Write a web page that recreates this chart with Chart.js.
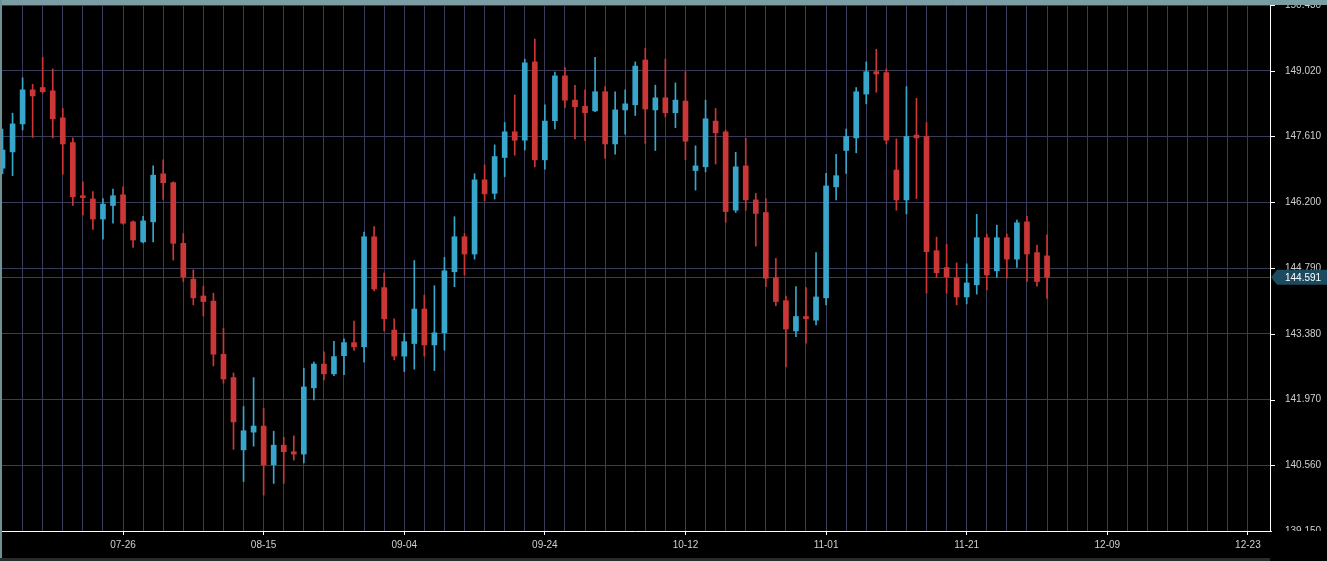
<!DOCTYPE html>
<html>
<head>
<meta charset="utf-8">
<title>Candles</title>
<script src="https://cdn.jsdelivr.net/npm/chart.js@4.4.1/dist/chart.umd.min.js"></script>
<style>
    html, body { margin: 0; padding: 0; background: #000; overflow: hidden; }
    #wrap { position: relative; width: 1327px; height: 561px; }
    #fxChart { position: absolute; left: 0; top: 0; }
    #topbar { position: absolute; left: 0; top: 0; width: 1327px; height: 5px; background: #7a9ea4; }
    #leftbar { position: absolute; left: 0; top: 0; width: 2px; height: 561px; background: #6f9196; }
    #bottombar { position: absolute; left: 0; top: 558px; width: 1270px; height: 3px; background: #2b2b2b; }
    #clip { position: absolute; left: 1272px; top: 531px; width: 55px; height: 30px; background: #000; }
</style>
</head>
<body>
<div id="wrap">
    <canvas id="fxChart" width="1327" height="561"></canvas>
    <div id="topbar"></div>
    <div id="leftbar"></div>
    <div id="bottombar"></div>
    <div id="clip"></div>
</div>
<script>
// daily candles
const opens = [146.93, 147.28, 147.88, 148.61, 148.66, 148.59, 148.01, 147.48, 146.34, 146.27,
    145.84, 146.13, 146.36, 145.78, 145.35, 145.78, 146.81, 146.62, 145.32, 144.55,
    144.19, 144.08, 142.94, 142.44, 140.89, 141.27, 141.40, 140.57, 140.99, 140.85,
    140.80, 142.22, 142.73, 142.52, 142.91, 143.19, 143.10, 145.46, 144.37, 143.46,
    142.90, 143.17, 143.91, 143.14, 143.40, 144.71, 145.46, 145.09, 146.68, 146.39,
    147.16, 147.71, 147.53, 149.21, 147.11, 147.95, 148.91, 148.39, 148.26, 148.16,
    148.57, 147.45, 148.18, 148.29, 149.25, 148.18, 148.44, 148.12, 148.37, 146.88,
    146.96, 147.94, 147.71, 146.03, 146.98, 146.25, 145.98, 144.58, 144.09, 143.44,
    143.75, 143.67, 144.15, 146.53, 147.31, 147.58, 148.52, 149.00, 148.98, 146.89,
    146.25, 147.64, 147.61, 145.16, 144.80, 144.58, 144.17, 144.43, 145.44, 144.73,
    145.44, 144.98, 145.78, 145.12, 145.05];
const highs = [147.77, 148.11, 148.87, 148.73, 149.31, 149.06, 148.21, 147.58, 146.64, 146.43,
    146.28, 146.48, 146.53, 145.80, 145.90, 146.98, 147.11, 146.64, 145.53, 144.75,
    144.40, 144.25, 143.50, 142.54, 141.82, 142.44, 141.78, 141.29, 141.16, 141.19,
    142.64, 142.77, 142.99, 143.22, 143.27, 143.65, 145.56, 145.68, 144.68, 143.70,
    143.39, 144.95, 144.21, 144.41, 145.02, 145.89, 145.53, 146.81, 147.00, 147.43,
    147.91, 148.50, 149.27, 149.70, 148.29, 148.99, 149.09, 148.71, 148.61, 149.31,
    148.68, 148.57, 148.61, 149.21, 149.50, 148.71, 149.27, 148.76, 149.00, 147.41,
    148.39, 148.21, 147.75, 147.27, 147.57, 146.39, 146.28, 145.00, 144.19, 144.39,
    144.37, 145.12, 146.82, 147.23, 147.77, 148.66, 149.21, 149.48, 149.06, 147.56,
    148.68, 148.43, 147.91, 145.45, 145.30, 144.90, 144.88, 145.94, 145.52, 145.71,
    145.52, 145.82, 145.90, 145.28, 145.50];
const lows = [146.81, 146.77, 147.75, 147.59, 148.54, 147.58, 146.80, 146.13, 145.93, 145.62,
    145.41, 145.75, 145.73, 145.23, 145.33, 145.35, 146.26, 144.96, 144.50, 144.00,
    143.76, 142.69, 142.32, 140.90, 140.21, 140.97, 139.92, 140.17, 140.17, 140.67,
    140.61, 141.96, 142.39, 142.48, 142.50, 143.02, 142.77, 144.30, 143.44, 142.82,
    142.57, 142.62, 142.90, 142.59, 143.03, 144.39, 144.64, 144.98, 146.23, 146.27,
    146.75, 147.21, 147.32, 146.96, 146.91, 147.77, 148.23, 147.56, 147.52, 148.14,
    147.14, 147.23, 147.66, 148.06, 147.46, 147.31, 148.03, 147.80, 147.11, 146.46,
    146.85, 147.02, 145.77, 145.98, 146.03, 145.26, 144.39, 143.98, 142.67, 143.32,
    143.18, 143.57, 144.00, 146.25, 146.82, 147.26, 148.31, 148.56, 147.45, 146.03,
    145.95, 146.28, 144.25, 144.59, 144.25, 144.00, 144.02, 144.23, 144.32, 144.59,
    144.57, 144.80, 144.50, 144.40, 144.14];
const closes = [147.32, 147.88, 148.61, 148.48, 148.57, 147.99, 147.45, 146.32, 146.30, 145.84,
    146.16, 146.34, 145.75, 145.39, 145.80, 146.78, 146.62, 145.32, 144.60, 144.15,
    144.07, 142.94, 142.41, 141.49, 141.30, 141.40, 140.57, 140.99, 140.85, 140.80,
    142.24, 142.73, 142.52, 142.89, 143.19, 143.10, 145.46, 144.34, 143.70, 142.90,
    143.21, 143.91, 143.14, 143.40, 144.73, 145.46, 145.09, 146.68, 146.38, 147.18,
    147.71, 147.53, 149.19, 147.11, 147.94, 148.91, 148.39, 148.25, 148.12, 148.57,
    147.45, 148.18, 148.31, 149.12, 148.20, 148.44, 148.12, 148.39, 147.51, 146.98,
    147.99, 147.69, 146.00, 146.96, 146.25, 145.96, 144.57, 144.07, 143.48, 143.75,
    143.70, 144.17, 146.55, 146.77, 147.61, 148.57, 149.00, 148.95, 147.53, 146.25,
    147.61, 147.58, 145.14, 144.69, 144.60, 144.17, 144.47, 145.44, 144.64, 145.44,
    144.98, 145.76, 145.09, 144.50, 144.591];

// x axis: labelled dates and the candle slot they sit on
const dateLabels = ['07-26', '08-15', '09-04', '09-24', '10-12', '11-01', '11-21', '12-09', '12-23'];
const dateIndex = [12, 26, 40, 54, 68, 82, 96, 110, 124];
const yTicks = [139.15, 140.56, 141.97, 143.38, 144.79, 146.20, 147.61, 149.02, 150.43];

const upColor = '#38a5cb';
const downColor = '#cb3737';
const gridColor = '#393c58';
const textColor = '#cfcfcf';
const labelFont = { family: '"Liberation Sans", Arial, sans-serif', size: 10, lineHeight: 1 };

const idx = opens.map((v, i) => i);
const candleColors = idx.map(i => closes[i] >= opens[i] ? upColor : downColor);
const bodies = idx.map(i => ({ x: i, y: [opens[i], closes[i]] }));
const wicks = idx.map(i => ({ x: i, y: [lows[i], highs[i]] }));
const lastClose = closes[closes.length - 1];

// current price line, short y ticks and the price tag
const lastPrice = {
    id: 'lastPrice',
    beforeDatasetsDraw(chart) {
        const c = chart.ctx;
        const area = chart.chartArea;
        const y = Math.round(chart.scales.y.getPixelForValue(lastClose)) + 0.5;
        c.save();
        c.strokeStyle = gridColor;
        c.lineWidth = 1;
        c.beginPath();
        c.moveTo(area.left, y);
        c.lineTo(area.right, y);
        c.stroke();
        c.restore();
    },
    afterDraw(chart) {
        const c = chart.ctx;
        const area = chart.chartArea;
        const ys = chart.scales.y;
        c.save();
        c.strokeStyle = '#ffffff';
        c.lineWidth = 1;
        yTicks.forEach(v => {
            const ty = Math.round(ys.getPixelForValue(v)) + 0.5;
            c.beginPath();
            c.moveTo(area.right, ty);
            c.lineTo(area.right + 5, ty);
            c.stroke();
        });
        const y = ys.getPixelForValue(lastClose);
        const x0 = area.right + 1;
        c.fillStyle = '#1c4a5f';
        c.beginPath();
        c.moveTo(x0, y);
        c.lineTo(x0 + 6, y - 7.5);
        c.lineTo(chart.width, y - 7.5);
        c.lineTo(chart.width, y + 7.5);
        c.lineTo(x0 + 6, y + 7.5);
        c.closePath();
        c.fill();
        c.fillStyle = '#ffffff';
        c.font = '10px "Liberation Sans", Arial, sans-serif';
        c.textBaseline = 'middle';
        c.fillText(lastClose.toFixed(3), area.right + 15, y + 0.5);
        c.restore();
    }
};

const config = {
    type: 'bar',
    data: {
        datasets: [
            {
                label: 'body',
                data: bodies,
                backgroundColor: candleColors,
                borderWidth: 0,
                barThickness: 5,
                minBarLength: 1,
                grouped: false,
                order: 0
            },
            {
                label: 'wick',
                data: wicks,
                backgroundColor: candleColors,
                borderWidth: 0,
                barThickness: 1,
                grouped: false,
                order: 1
            }
        ]
    },
    options: {
        responsive: false,
        animation: false,
        devicePixelRatio: 1,
        events: [],
        layout: { padding: 0 },
        plugins: {
            legend: { display: false },
            tooltip: { enabled: false }
        },
        scales: {
            x: {
                type: 'linear',
                min: -0.25,
                max: 126.2,
                offset: false,
                afterBuildTicks: (axis) => {
                    const t = [];
                    for (let v = 2; v <= 124; v += 2) t.push({ value: v });
                    axis.ticks = t;
                },
                afterFit: (axis) => { axis.height = 30; },
                grid: {
                    offset: false,
                    color: gridColor,
                    lineWidth: 1,
                    tickLength: 4,
                    tickColor: (c) => (c.tick && dateIndex.includes(c.tick.value)) ? '#ffffff' : 'rgba(0,0,0,0)'
                },
                border: { color: '#ffffff', width: 1 },
                ticks: {
                    autoSkip: false,
                    maxRotation: 0,
                    minRotation: 0,
                    padding: 4,
                    color: textColor,
                    font: { family: '"Liberation Sans", Arial, sans-serif', size: 10 },
                    callback: (value) => {
                        const k = dateIndex.indexOf(value);
                        return k >= 0 ? dateLabels[k] : '';
                    }
                }
            },
            y: {
                position: 'right',
                min: 139.15,
                max: 150.43,
                afterBuildTicks: (axis) => {
                    axis.ticks = yTicks.map(v => ({ value: v }));
                },
                afterFit: (axis) => { axis.width = 57; },
                grid: {
                    color: gridColor,
                    lineWidth: 1,
                    tickLength: 15,
                    tickColor: 'rgba(0,0,0,0)'
                },
                border: { color: '#ffffff', width: 1 },
                ticks: {
                    autoSkip: false,
                    padding: 0,
                    color: textColor,
                    font: labelFont,
                    callback: (value) => Number(value).toFixed(3)
                }
            }
        }
    },
    plugins: [lastPrice]
};

const ctx = document.getElementById('fxChart').getContext('2d');
new Chart(ctx, config);
</script>
</body>
</html>
